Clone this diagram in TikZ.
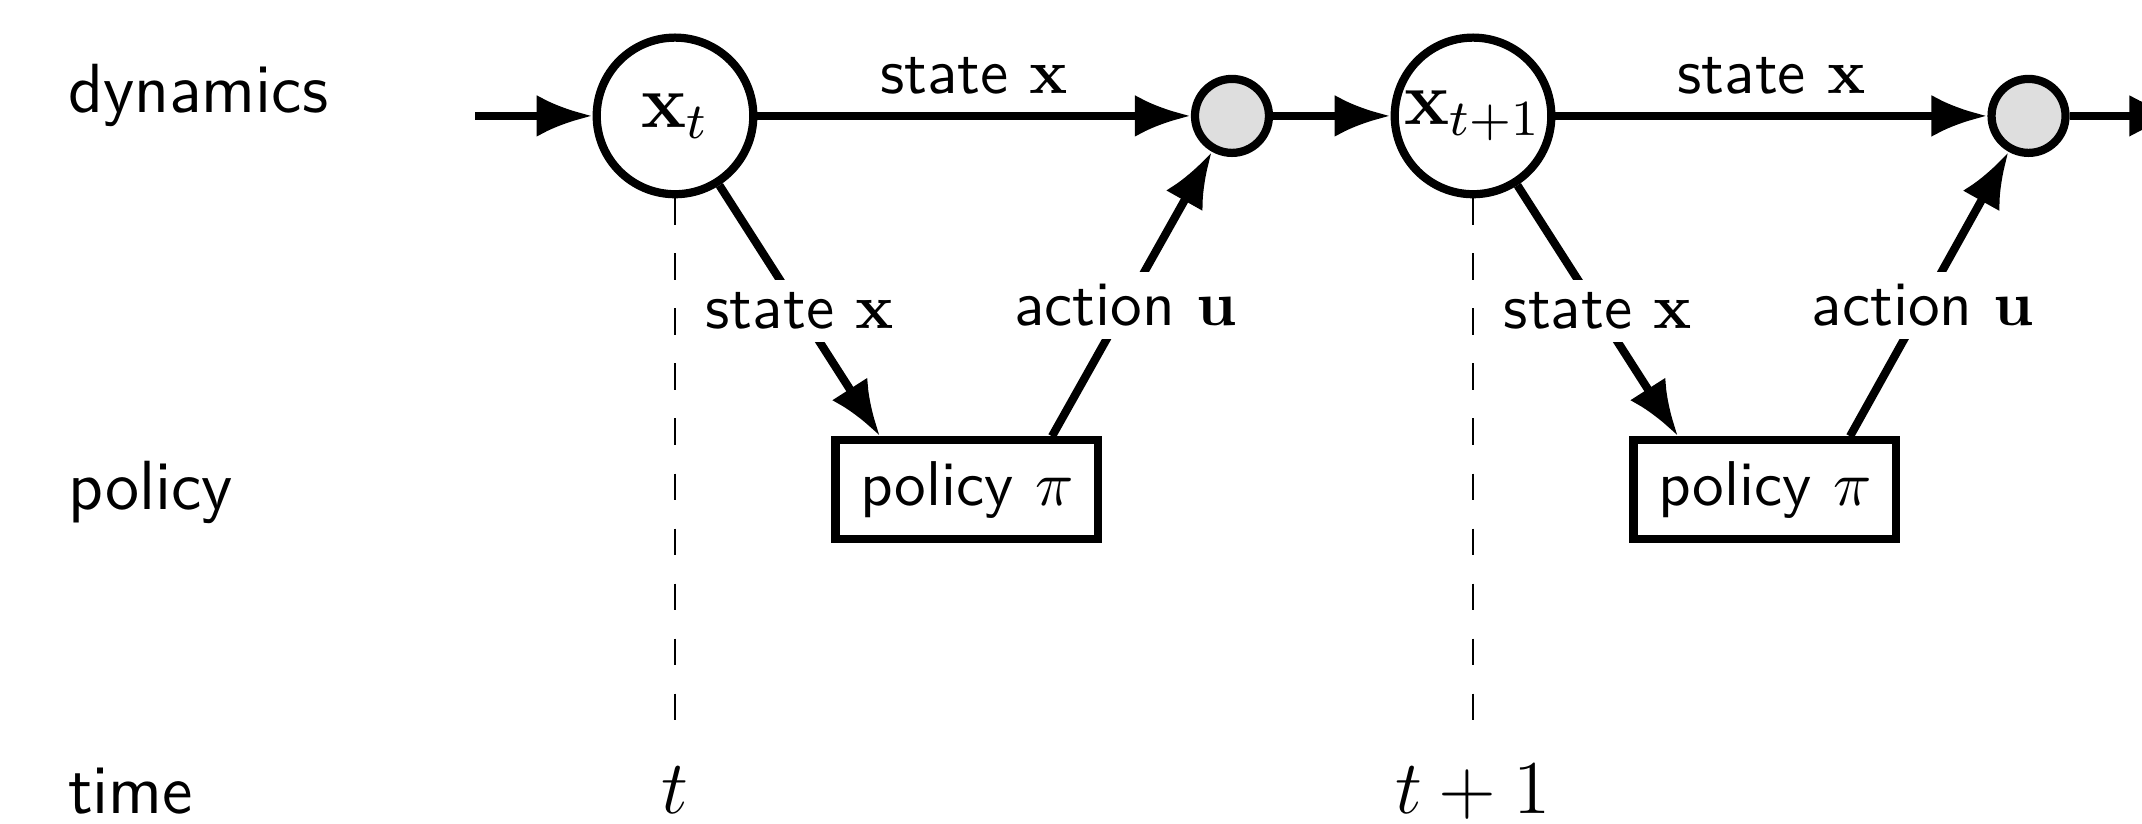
\documentclass[tikz,border=0pt]{standalone}
\usepackage{amsmath}
\usepackage{amssymb}
\usepackage{tikz}
\usetikzlibrary{shapes}
\usetikzlibrary{arrows.meta}
\usetikzlibrary{positioning}

\definecolor{dotgray}{gray}{0.87}

\begin{document}
\begin{tikzpicture}[-{Latex}, line width=1.3pt, font=\sffamily,
  statevar/.style={circle,draw,fill=white,minimum size=0.87cm,inner sep=0pt,font=\large},
  dot/.style={shape=circle,draw,fill=dotgray,minimum size=0.411cm,inner sep=0pt},
  policy/.style={rectangle,draw,fill=white,minimum width=1.46cm,minimum height=0.55cm,inner sep=2pt},
  rowlabel/.style={anchor=base west,inner sep=0pt,font=\sffamily\fontsize{11}{13}\selectfont},
  timelabel/.style={anchor=base,inner sep=0pt,font=\large},
  timeline/.style={-,thin,dash pattern=on 4.2pt off 4.5pt},
  onedge/.style={fill=white,inner sep=2pt}]
	  \useasboundingbox (0,0.644) rectangle (11.9,-3.933);

	  % row names
	  \node[rowlabel] (dynlab) at (0.356,0.017) {dynamics};
	  \node[rowlabel] (pollab) at (0.356,-2.189) {policy};
	  \node[rowlabel] (timelab) at (0.356,-3.875) {time};

	  % two time steps
	  \node[statevar] (xt) at (3.75,0) {$\mathbf{x}_t$};
	  \node[dot] (d1) [right = 2.408cm of xt] {};
	  \node[statevar] (xt1) [right = 0.653cm of d1] {$\mathbf{x}_{t+1}$};
	  \node[dot] (d2) [right = 2.40cm of xt1] {};
	  \node[policy] (p1) [below right = 1.456cm and 0.545cm of xt] {policy $\pi$};
	  \node[policy] (p2) [below right = 1.456cm and 0.545cm of xt1] {policy $\pi$};

	  \node[timelabel] (tlab) at (xt |- timelab.base) {$t$};
	  \node[timelabel] (tlab1) at (xt1 |- timelab.base) {$t+1$};

	  \coordinate (in) at (2.639,0);
	  \coordinate (out) at (12.14,0);
	  \coordinate (tend) at (0,-3.41);

	  \draw[timeline] (xt) -- (xt |- tend);
	  \draw[timeline] (xt1) -- (xt1 |- tend);

	  \draw (in) -- (xt);
	  \draw (xt) -- node[above=-0.6pt] {state $\mathbf{x}$} (d1);
	  \draw (xt) -- node[onedge] {state $\mathbf{x}$} ([xshift=0.27cm]p1.north west);
	  \draw ([xshift=-0.28cm]p1.north east) -- node[onedge,pos=0.46] {action $\mathbf{u}$} (d1);
	  \draw (d1) -- (xt1);

	  \draw (xt1) -- node[above=-0.6pt] {state $\mathbf{x}$} (d2);
	  \draw (xt1) -- node[onedge] {state $\mathbf{x}$} ([xshift=0.27cm]p2.north west);
	  \draw ([xshift=-0.28cm]p2.north east) -- node[onedge,pos=0.46] {action $\mathbf{u}$} (d2);
	  \draw (d2) -- (out);
\end{tikzpicture}
\end{document}
